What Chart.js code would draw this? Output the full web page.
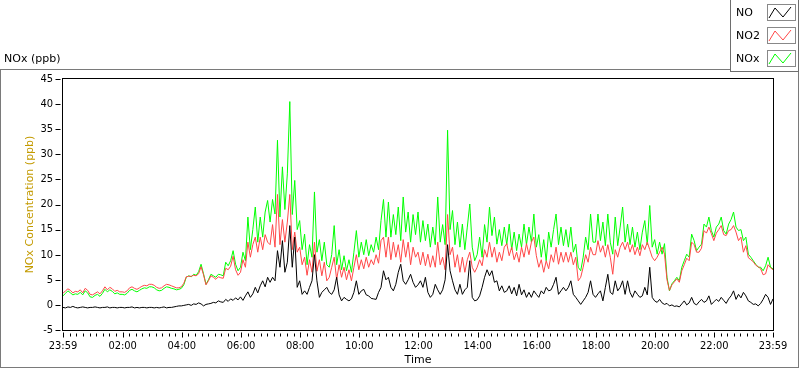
<!DOCTYPE html>
<html>
<head>
<meta charset="utf-8">
<title>NOx (ppb)</title>
<script src="https://cdn.jsdelivr.net/npm/chart.js@4.4.1/dist/chart.umd.min.js"></script>
<style>
  html, body { margin: 0; padding: 0; background: #fff; }
  #wrap { width: 800px; height: 369px; }
</style>
</head>
<body>
<div id="wrap"><canvas id="noxChart" width="800" height="369"></canvas></div>
<script>
// one sample every 5 minutes, starting at 23:59 (minutes since start)
const stepMinutes = 5;

// x axis labels (minutes since 23:59)
const tickMinutes = [0, 121, 241, 361, 481, 601, 721, 841, 961, 1081, 1201, 1321, 1440];
const tickLabels = ['23:59', '02:00', '04:00', '06:00', '08:00', '10:00', '12:00',
  '14:00', '16:00', '18:00', '20:00', '22:00', '23:59'];

const seriesNames = ['NO', 'NO2', 'NOx'];

// NO (ppb), one row per hour
const noValues = [
  -0.5,-0.6,-0.4,-0.5,-0.3,-0.5,-0.6,-0.5,-0.4,-0.5,-0.6,-0.5,
  -0.5,-0.4,-0.5,-0.6,-0.5,-0.5,-0.4,-0.6,-0.5,-0.5,-0.6,-0.5,
  -0.5,-0.6,-0.5,-0.5,-0.4,-0.6,-0.5,-0.6,-0.5,-0.5,-0.6,-0.5,
  -0.5,-0.6,-0.5,-0.6,-0.5,-0.4,-0.6,-0.5,-0.5,-0.4,-0.3,-0.2,
  -0.2,-0.1,0.0,0.1,-0.1,0.2,0.1,0.4,0.2,-0.2,0.1,0.2,
  0.3,0.5,0.4,0.8,0.6,0.5,1.1,0.7,1.2,0.9,1.4,1.0,
  1.6,0.9,1.8,2.6,1.5,2.2,3.5,2.4,3.8,4.8,3.6,5.5,
  4.5,5.5,4.8,10.8,7.5,12.8,6.5,8.5,15.8,7.5,13.5,3.5,
  4.8,2.1,2.8,2.1,3.5,4.8,10.0,4.8,1.5,2.5,3.0,3.5,
  2.5,2.1,3.0,5.5,2.0,0.8,1.5,1.1,0.8,1.2,2.5,4.8,
  2.1,2.8,3.1,2.0,1.8,1.3,1.2,1.1,2.5,3.5,6.8,5.0,
  5.5,3.5,2.8,4.1,6.5,8.1,4.8,4.1,5.0,6.1,4.5,3.5,
  4.0,4.8,3.5,5.5,2.5,1.5,2.1,4.1,3.0,2.1,3.0,5.0,
  12.0,6.8,4.8,3.0,2.1,4.1,2.1,3.0,3.5,8.8,1.5,0.8,
  1.0,1.8,3.5,5.5,7.0,5.8,6.8,4.5,4.8,2.8,3.8,2.5,
  2.8,3.8,2.2,3.5,1.8,4.1,2.0,3.0,1.5,2.5,1.5,2.8,
  2.1,1.5,2.8,2.2,3.5,2.8,3.0,4.1,5.5,2.1,2.8,3.5,
  2.8,3.5,4.8,2.1,1.5,0.8,0.1,0.8,1.5,2.5,4.8,2.1,
  1.5,2.2,2.8,0.8,3.5,6.1,2.5,2.1,4.8,2.8,3.5,4.8,
  2.1,4.8,2.5,1.5,2.8,2.1,1.5,1.8,3.5,2.0,7.5,1.5,
  0.8,0.5,1.1,0.4,0.1,0.3,-0.2,0.0,-0.3,-0.2,-0.4,0.2,
  0.8,0.0,0.4,1.5,0.3,0.0,0.6,1.1,0.5,0.8,1.8,0.1,
  0.6,1.1,0.7,1.5,0.9,0.3,1.2,1.8,2.8,1.1,2.1,1.4,
  2.5,1.8,0.8,0.5,0.1,0.2,-0.2,0.3,1.1,2.1,1.5,0.1,
  1.2
];

// NO2 (ppb)
const no2Values = [
  2.3,2.8,3.2,2.9,2.4,2.7,2.6,3.0,2.4,3.3,2.9,2.1,
  2.0,2.3,2.6,2.2,2.8,3.6,3.0,3.5,3.2,2.7,2.9,2.6,
  2.6,2.5,2.8,3.4,3.6,3.3,3.1,3.4,3.7,3.9,3.8,4.1,
  4.1,3.9,3.5,3.3,3.4,3.8,4.1,4.0,3.8,3.6,3.4,3.4,
  3.6,4.3,5.6,5.7,5.7,5.9,5.8,6.2,7.6,6.0,4.0,4.8,
  5.8,5.5,5.1,5.6,5.4,5.3,7.3,7.0,7.7,9.7,7.0,5.9,
  6.5,9.0,7.5,12.5,9.5,12.0,13.5,10.5,13.5,11.0,14.0,12.5,
  12.0,16.0,11.5,22.0,12.0,17.0,12.5,16.5,22.0,11.0,14.5,10.5,
  11.5,8.0,9.5,5.9,9.0,6.5,12.5,6.7,9.0,5.8,8.5,4.8,
  5.5,7.5,9.5,5.0,8.0,5.5,7.5,5.0,7.0,4.8,7.5,10.0,
  7.0,9.0,7.2,9.5,7.5,9.0,8.0,10.0,8.3,12.8,13.5,9.5,
  13.5,9.0,12.5,9.5,12.0,8.5,13.0,9.5,12.5,8.0,11.5,9.5,
  10.5,8.0,10.5,7.8,10.1,7.5,9.8,7.5,12.5,8.0,9.5,7.0,
  18.0,10.0,11.5,7.5,10.0,6.5,9.5,6.5,9.0,10.5,7.5,6.5,
  7.5,9.0,7.8,11.0,9.5,12.5,9.5,11.5,8.5,10.5,8.8,11.5,
  12.2,9.8,11.5,9.0,10.5,8.5,11.5,9.5,12.2,10.0,12.5,13.5,
  9.8,7.5,9.0,6.5,8.8,7.2,10.0,8.5,11.5,8.1,10.5,8.5,
  10.5,8.5,10.5,8.0,9.5,4.8,5.5,7.5,10.0,8.5,11.5,10.0,
  10.0,12.8,10.5,11.8,9.5,12.0,9.5,6.1,11.0,9.5,11.5,12.5,
  11.0,12.5,10.5,12.0,10.0,11.5,9.8,12.0,11.0,12.5,11.0,9.5,
  8.8,9.5,10.5,11.5,10.1,5.0,2.9,4.0,4.6,5.2,4.5,6.8,
  8.0,9.3,8.8,12.5,12.0,10.5,10.5,11.3,14.8,14.3,15.5,14.2,
  12.8,14.3,15.0,15.8,14.0,13.8,14.8,15.0,15.8,14.5,12.8,13.5,
  10.5,11.8,9.4,9.0,8.6,7.9,7.6,7.2,6.0,6.2,8.0,7.4,
  7.0
];

// NOx (ppb)
const noxValues = [
  1.8,2.3,2.8,2.4,2.0,2.2,2.1,2.5,2.0,2.8,2.4,1.6,
  1.5,1.9,2.1,1.7,2.3,3.1,2.6,3.0,2.7,2.2,2.4,2.1,
  2.1,2.0,2.3,2.9,3.1,2.8,2.6,2.9,3.2,3.4,3.3,3.6,
  3.6,3.4,3.0,2.8,2.9,3.3,3.6,3.5,3.3,3.2,3.0,3.1,
  3.3,4.0,5.5,5.8,5.6,6.1,5.9,6.6,8.1,6.2,4.1,5.0,
  6.1,5.8,5.5,6.1,6.0,5.8,8.5,7.8,8.8,10.8,8.1,6.8,
  7.5,10.5,8.8,17.5,11.0,15.0,19.5,12.5,17.5,13.5,18.5,20.8,
  16.5,21.0,18.1,32.8,17.5,27.5,19.0,26.1,40.5,18.0,24.8,15.0,
  16.8,11.0,14.1,8.0,12.0,9.5,22.5,10.5,13.0,8.8,12.5,8.0,
  7.5,10.0,15.8,8.0,11.0,7.0,9.8,6.8,9.0,6.5,10.5,14.8,
  9.5,12.5,10.0,13.0,9.8,12.0,10.5,13.5,11.0,16.8,21.0,13.5,
  20.5,13.5,18.0,14.0,19.5,12.8,21.5,14.5,18.5,12.5,18.0,14.0,
  18.5,12.5,16.8,12.8,16.1,11.5,15.5,12.0,21.5,12.5,16.0,12.0,
  34.8,15.0,18.8,12.0,16.5,11.5,16.1,11.0,15.5,20.1,11.5,8.8,
  10.0,13.5,9.5,16.0,12.5,19.5,13.8,17.5,12.1,15.0,11.8,15.5,
  12.0,16.1,11.0,14.5,10.8,14.1,11.5,16.1,12.0,15.5,12.5,18.1,
  11.5,14.0,9.5,13.0,8.8,14.5,11.5,15.0,18.1,12.0,15.5,11.8,
  15.0,11.5,15.5,10.5,12.1,7.5,6.8,9.5,13.5,11.0,18.1,12.5,
  12.5,18.1,12.8,16.5,11.8,18.1,12.5,10.1,17.5,11.8,15.5,19.5,
  12.5,16.1,12.0,15.5,11.5,14.5,11.0,14.5,16.8,12.0,19.8,11.5,
  13.0,10.1,12.5,10.1,12.2,5.5,2.8,4.2,4.8,5.5,4.8,7.5,
  8.8,10.1,9.5,14.1,12.8,10.8,11.5,12.1,16.1,15.5,17.5,14.8,
  13.5,15.5,16.1,17.5,14.8,14.1,16.1,17.0,18.5,15.5,14.8,15.0,
  12.8,13.5,10.1,9.5,8.8,8.1,7.5,7.5,6.8,7.8,9.5,7.5,
  7.2
];

const seriesColors = ['#000000', '#FF4747', '#00FF00'];

const TEXT_FONT = '"DejaVu Sans", sans-serif';
const NUM_FONT = '"DejaVu Sans Condensed", "DejaVu Sans", sans-serif';

function toPoints(values) {
  return values.map((v, i) => ({ x: i * stepMinutes, y: v }));
}

// LabVIEW-like frame, tick marks and legend
const labviewDecor = {
  id: 'labviewDecor',
  beforeDraw(chart) {
    const ctx = chart.ctx;
    ctx.save();
    ctx.strokeStyle = '#7a7a7a';
    ctx.lineWidth = 1;
    ctx.strokeRect(0.5, 69.5, 798, 298);
    ctx.fillStyle = '#000';
    ctx.font = '11px ' + TEXT_FONT;
    ctx.textBaseline = 'middle';
    ctx.textAlign = 'left';
    ctx.fillText('NOx (ppb)', 4, 59);
    ctx.restore();
  },
  afterDatasetsDraw(chart) {
    const ctx = chart.ctx;
    const a = chart.chartArea;
    const xs = chart.scales.x, ys = chart.scales.y;
    ctx.save();
    ctx.strokeStyle = '#000';
    ctx.lineWidth = 1;
    const l = Math.round(a.left) - 0.5, t = Math.round(a.top) - 0.5;
    const r = Math.round(a.right) + 0.5, b = Math.round(a.bottom) + 0.5;
    ctx.strokeRect(l, t, r - l, b - t);
    ctx.beginPath();
    ys.ticks.forEach(tk => {
      const py = Math.round(ys.getPixelForValue(tk.value)) + 0.5;
      ctx.moveTo(l - 7, py);
      ctx.lineTo(l - 2, py);
    });
    for (let i = 0; i < tickMinutes.length; i++) {
      const px = Math.round(xs.getPixelForValue(tickMinutes[i])) + 0.5;
      ctx.moveTo(px, b + 2);
      ctx.lineTo(px, b + 7);
      if (i < tickMinutes.length - 1) {
        const span = tickMinutes[i + 1] - tickMinutes[i];
        for (let k = 1; k <= 8; k++) {
          const mx = Math.round(xs.getPixelForValue(tickMinutes[i] + span * k / 9)) + 0.5;
          ctx.moveTo(mx, b + 3);
          ctx.lineTo(mx, b + 6);
        }
      }
    }
    ctx.stroke();
    ctx.restore();
  },
  afterDraw(chart) {
    const ctx = chart.ctx;
    ctx.save();
    ctx.fillStyle = '#fff';
    ctx.fillRect(730, 0, 70, 72);
    ctx.strokeStyle = '#6e6e6e';
    ctx.lineWidth = 1;
    ctx.strokeRect(730.5, -0.5, 68, 72);
    ctx.font = '11px ' + TEXT_FONT;
    ctx.textBaseline = 'middle';
    ctx.textAlign = 'left';
    chart.data.datasets.forEach((ds, i) => {
      const cy = 13 + i * 23;
      ctx.fillStyle = '#000';
      ctx.fillText(ds.label, 736, cy);
      ctx.strokeStyle = '#888';
      ctx.strokeRect(767.5, cy - 8.5, 28, 16);
      ctx.strokeStyle = ds.borderColor;
      ctx.beginPath();
      ctx.moveTo(769, cy + 5);
      ctx.lineTo(775, cy - 5);
      ctx.lineTo(783, cy + 4);
      ctx.lineTo(791, cy - 6);
      ctx.stroke();
    });
    ctx.restore();
  }
};

new Chart(document.getElementById('noxChart'), {
  type: 'line',
  data: {
    datasets: [
      { label: seriesNames[0], data: toPoints(noValues), borderColor: seriesColors[0] },
      { label: seriesNames[1], data: toPoints(no2Values), borderColor: seriesColors[1] },
      { label: seriesNames[2], data: toPoints(noxValues), borderColor: seriesColors[2] }
    ]
  },
  options: {
    responsive: false,
    animation: false,
    devicePixelRatio: 1,
    layout: { padding: { left: 0, top: 79, right: 27, bottom: 0 } },
    elements: {
      line: { borderWidth: 1, tension: 0 },
      point: { radius: 0, hoverRadius: 0 }
    },
    plugins: { legend: { display: false }, tooltip: { enabled: false } },
    scales: {
      x: {
        type: 'linear',
        min: 0,
        max: 1440,
        grid: { display: false, drawTicks: false },
        border: { display: false },
        afterBuildTicks: scale => { scale.ticks = tickMinutes.map(v => ({ value: v })); },
        afterFit: scale => { scale.height = 39; },
        ticks: {
          autoSkip: false,
          maxRotation: 0,
          padding: 10,
          color: '#000',
          font: { family: NUM_FONT, size: 11 },
          callback: (value, index) => tickLabels[index]
        },
        title: {
          display: true,
          text: 'Time',
          color: '#000',
          font: { family: TEXT_FONT, size: 11 },
          padding: { top: 0, bottom: 2 }
        }
      },
      y: {
        min: -5,
        max: 45,
        grid: { display: false, drawTicks: false },
        border: { display: false },
        afterFit: scale => { scale.width = 63; },
        ticks: {
          stepSize: 5,
          padding: 10,
          color: '#000',
          font: { family: NUM_FONT, size: 11 }
        },
        title: {
          display: true,
          text: 'NOx Concentration (ppb)',
          color: '#C39A00',
          font: { family: TEXT_FONT, size: 11 },
          padding: { top: 24, bottom: 0 }
        }
      }
    }
  },
  plugins: [labviewDecor]
});
</script>
</body>
</html>
